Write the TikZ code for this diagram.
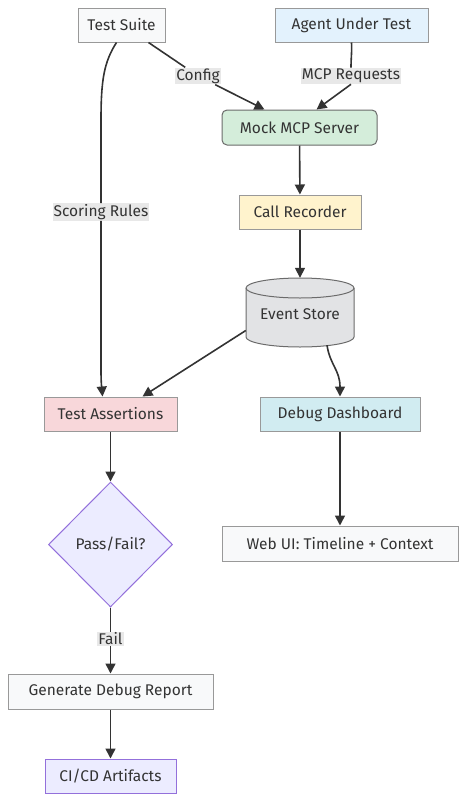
\documentclass[tikz,border=0pt]{standalone}
\usepackage{fontspec}
\setmainfont{Fira Sans}
\usepackage{tikz}
\usetikzlibrary{positioning,arrows.meta,shapes.geometric,calc}
\definecolor{InkDark}{HTML}{333333}
\definecolor{EdgeGray}{HTML}{999999}
\definecolor{SuiteGray}{HTML}{F8F9FA}
\definecolor{AgentBlue}{HTML}{E3F2FD}
\definecolor{MockGreen}{HTML}{D4EDDA}
\definecolor{RecYellow}{HTML}{FFF3CD}
\definecolor{StoreGray}{HTML}{E2E3E5}
\definecolor{AssertRed}{HTML}{F8D7DA}
\definecolor{DashCyan}{HTML}{D1ECF1}
\definecolor{MerLilac}{HTML}{ECECFF}
\definecolor{MerPurple}{HTML}{9370DB}
\definecolor{LabelGray}{HTML}{E8E8E8}

\begin{document}
\begin{tikzpicture}[
  x=1pt,y=-1pt,
  font=\fontsize{15.5}{18}\selectfont,text=InkDark,
  box/.style={draw=EdgeGray,line width=1pt,align=center,minimum height=34pt,inner xsep=8pt},
  lilac/.style={draw=MerPurple,line width=1pt,fill=MerLilac,align=center},
  storeline/.style={draw=EdgeGray!70!black,line width=1pt},
  edgelabel/.style={fill=LabelGray,inner sep=1pt},
  line/.style={line width=1.6pt,draw=InkDark},
  arrow/.style={line,-{Triangle[length=10pt,width=10pt]}}
]
\useasboundingbox (0,0) rectangle (466,801);
\node[box,fill=SuiteGray,minimum width=87pt] (suite) at (121.5,25) {Test Suite};
\node[box,fill=AgentBlue,minimum width=153pt] (agent) at (351.5,25) {Agent Under Test};
\node[box,fill=MockGreen,minimum width=155pt,minimum height=35pt,rounded corners=5pt,draw=EdgeGray!70!black] (mock) at (299.5,127.5) {Mock MCP Server};
\node[box,fill=RecYellow,minimum width=122pt] (recorder) at (300,212) {Call Recorder};
% cylinder drawn by hand
\node[minimum width=108pt,minimum height=69pt] (store) at (300,312.5) {};
\draw[storeline,fill=StoreGray] (246,288) -- (246,337) arc[start angle=180,end angle=360,x radius=54pt,y radius=10pt]
  -- (354,288) arc[start angle=0,end angle=180,x radius=54pt,y radius=10pt] -- cycle;
\draw[storeline] (246,288) arc[start angle=180,end angle=360,x radius=54pt,y radius=10pt];
\node (storetext) at (300,314) {Event Store};
\node[box,fill=AssertRed,minimum width=133pt] (assert) at (110.5,414) {Test Assertions};
\node[box,fill=DashCyan,minimum width=160pt] (dash) at (340,414) {Debug Dashboard};
\node[lilac,diamond,minimum width=124pt,minimum height=125pt,inner sep=0pt] (verdict) at (110.5,544.5) {Pass/Fail?};
\node[box,fill=SuiteGray,minimum width=236pt,minimum height=35pt] (webui) at (340,543.5) {Web UI: Timeline + Context};
\node[box,fill=SuiteGray,minimum width=205pt,minimum height=35pt] (report) at (110.5,691.5) {Generate Debug Report};
\node[lilac,minimum width=131pt,minimum height=34pt] (artifacts) at (110.5,776) {CI/CD Artifacts};

% edges from the suite and agent
\coordinate (rulesbend) at (101,120);
\node[edgelabel] (rules) at (101,212) {Scoring Rules};
\draw[line] ([xshift=-5pt]suite.south) .. controls (104,62) and (101,80) .. (rulesbend) -- (rules.north);
\draw[arrow] (rules.south) -- (101,370) .. controls (101,385) and (102,390) .. ([xshift=-8pt]assert.north);
\node[edgelabel] (config) at (198,76) {Config};
\draw[line] ([xshift=27pt]suite.south) -- (config);
\draw[arrow] (config) -- ([xshift=-35pt]mock.north);
\node[edgelabel] (requests) at (351,76) {MCP Requests};
\draw[line] (agent.south) .. controls (352,52) and (351,58) .. (requests.north);
\draw[arrow] (requests.south) -- ([xshift=17pt]mock.north);

% pipeline
\draw[arrow] (mock) -- (recorder);
\draw[arrow] (recorder) -- (store.north);
\draw[arrow] ($(store.west)+(0,18)$) -- ([xshift=32pt]assert.north);
\draw[arrow] ($(store.south)+(27,-2)$) .. controls (330,365) and (340,370) .. (dash.north);
\draw[arrow] (assert) -- (verdict);
\draw[arrow] (dash) -- (webui);
\node[edgelabel] (fail) at (110.5,639) {Fail};
\draw[line] (verdict.south) -- (fail);
\draw[arrow] (fail) -- (report);
\draw[arrow] (report) -- (artifacts);
\end{tikzpicture}
\end{document}
